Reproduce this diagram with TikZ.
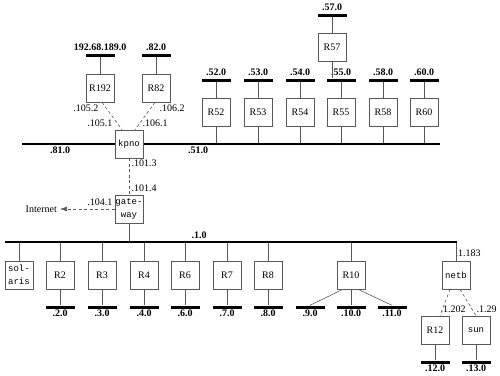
\documentclass[tikz,border=0pt]{standalone}
\usepackage{fontspec}
\setmainfont{Liberation Serif}
\setmonofont{Liberation Mono}
\usepackage{tikz}
\usetikzlibrary{arrows.meta, positioning}
\tikzstyle{router} = [rectangle, draw=black!65, fill=white, line width=0.6pt, minimum width=28pt, minimum height=28pt, inner sep=0pt, text centered]
\tikzstyle{host} = [router, font=\ttfamily\fontsize{9}{13}\selectfont, align=center]
\tikzstyle{net} = [rectangle, fill=black, minimum width=29pt, minimum height=3pt, inner sep=0pt]
\tikzstyle{lan} = [rectangle, fill=black, minimum height=2.4pt, inner sep=0pt]
\tikzstyle{netlabel} = [font=\bfseries, inner sep=1pt]
\tikzstyle{iflabel} = [inner sep=0.5pt]
\tikzstyle{link} = [draw=black!65, line width=0.6pt]
\tikzstyle{ptp} = [link, dash pattern=on 3pt off 2.5pt]
\tikzstyle{arrow} = [-{Latex[length=7pt, width=5pt]}]

\begin{document}
\begin{tikzpicture}[x=1pt, y=-1pt]
    \useasboundingbox (0,0) rectangle (500,375);

        % Ethernets
        \node (lan81) [lan, minimum width=418pt] at (231,144) {};
        \node (lan1) [lan, minimum width=452pt] at (231,242) {};
        \node (t81) [netlabel, anchor=north] at (60,146) {.81.0};
        \node (t51) [netlabel, anchor=north] at (198,146) {.51.0};
        \node (t1) [netlabel, anchor=south] at (199,240) {.1.0};

        % Nodes
        \node (r192) [router] at (100,88) {R192};
        \node (r82) [router] at (156,88) {R82};
        \node (kpno) [host] at (129,144) {kpno};
        \node (r52) [router] at (216,112) {R52};
        \node (r53) [router] at (258,112) {R53};
        \node (r54) [router] at (300,112) {R54};
        \node (r55) [router] at (341,112) {R55};
        \node (r58) [router] at (383,112) {R58};
        \node (r60) [router] at (424,112) {R60};
        \node (r57) [router] at (332,47) {R57};
        \node (gateway) [host] at (129,209) {gate-\\way};
        \node (internet) [inner sep=3pt, anchor=east] at (60,209) {Internet};
        \node (solaris) [host] at (19,275) {sol-\\aris};
        \node (r2) [router] at (60,275) {R2};
        \node (r3) [router] at (102,275) {R3};
        \node (r4) [router] at (144,275) {R4};
        \node (r6) [router] at (185,275) {R6};
        \node (r7) [router] at (227,275) {R7};
        \node (r8) [router] at (268,275) {R8};
        \node (r10) [router] at (351,275) {R10};
        \node (netb) [host] at (456,275) {netb};
        \node (r12) [router] at (435,330) {R12};
        \node (sun) [host] at (476,330) {sun};

        % Networks
        \node (n192) [net] at (100,55) {};
        \node (n82) [net] at (156,55) {};
        \node (n57) [net] at (332,15) {};
        \node (n52) [net] at (216,80) {};
        \node (n53) [net] at (258,80) {};
        \node (n54) [net] at (300,80) {};
        \node (n55) [net] at (341,80) {};
        \node (n58) [net] at (383,80) {};
        \node (n60) [net] at (424,80) {};
        \node (n2) [net] at (60,307) {};
        \node (n3) [net] at (102,307) {};
        \node (n4) [net] at (144,307) {};
        \node (n6) [net] at (185,307) {};
        \node (n7) [net] at (227,307) {};
        \node (n8) [net] at (268,307) {};
        \node (n9) [net] at (310,307) {};
        \node (n10) [net] at (351,307) {};
        \node (n11) [net] at (392,307) {};
        \node (n12) [net] at (435,362) {};
        \node (n13) [net] at (476,362) {};

        \node (t192) [netlabel, above=1.5pt of n192] {192.68.189.0};
        \node (t82) [netlabel, above=1.5pt of n82] {.82.0};
        \node (t57) [netlabel, above=1.5pt of n57] {.57.0};
        \node (t52) [netlabel, above=1.5pt of n52] {.52.0};
        \node (t53) [netlabel, above=1.5pt of n53] {.53.0};
        \node (t54) [netlabel, above=1.5pt of n54] {.54.0};
        \node (t55) [netlabel, above=1.5pt of n55] {.55.0};
        \node (t58) [netlabel, above=1.5pt of n58] {.58.0};
        \node (t60) [netlabel, above=1.5pt of n60] {.60.0};
        \node (t2) [netlabel, below=0pt of n2] {.2.0};
        \node (t3) [netlabel, below=0pt of n3] {.3.0};
        \node (t4) [netlabel, below=0pt of n4] {.4.0};
        \node (t6) [netlabel, below=0pt of n6] {.6.0};
        \node (t7) [netlabel, below=0pt of n7] {.7.0};
        \node (t8) [netlabel, below=0pt of n8] {.8.0};
        \node (t9) [netlabel, below=0pt of n9] {.9.0};
        \node (t10) [netlabel, below=0pt of n10] {.10.0};
        \node (t11) [netlabel, below=0pt of n11] {.11.0};
        \node (t12) [netlabel, below=0pt of n12] {.12.0};
        \node (t13) [netlabel, below=0pt of n13] {.13.0};

        % Interface addresses
        \node (a1052) [iflabel, anchor=east] at (99,108) {.105.2};
        \node (a1051) [iflabel, anchor=east] at (113,123) {.105.1};
        \node (a1062) [iflabel, anchor=west] at (159,108) {.106.2};
        \node (a1061) [iflabel, anchor=west] at (142,123) {.106.1};
        \node (a1013) [iflabel, anchor=west] at (131,163) {.101.3};
        \node (a1014) [iflabel, anchor=west] at (131,188) {.101.4};
        \node (a1041) [iflabel, anchor=east] at (113,202) {.104.1};
        \node (a1183) [iflabel, anchor=west] at (455,253) {.1.183};
        \node (a1202) [iflabel, anchor=west] at (440,309) {.1.202};
        \node (a129) [iflabel, anchor=west] at (476,309) {.1.29};

        % Links
        \draw [link] (r192) -- (n192);
        \draw [link] (r82) -- (n82);
        \draw [link] (r57) -- (n57);
        \draw [link] (r57) -- (r57 |- n55.north);
        \draw [link] (r52) -- (n52);
        \draw [link] (r53) -- (n53);
        \draw [link] (r54) -- (n54);
        \draw [link] (r55) -- (n55);
        \draw [link] (r58) -- (n58);
        \draw [link] (r60) -- (n60);
        \draw [link] (r52) -- (r52 |- lan81.north);
        \draw [link] (r53) -- (r53 |- lan81.north);
        \draw [link] (r54) -- (r54 |- lan81.north);
        \draw [link] (r55) -- (r55 |- lan81.north);
        \draw [link] (r58) -- (r58 |- lan81.north);
        \draw [link] (r60) -- (r60 |- lan81.north);
        \draw [ptp] ([xshift=2pt]r192.south) -- ([xshift=-7pt]kpno.north);
        \draw [ptp] ([xshift=-1pt]r82.south) -- ([xshift=6pt]kpno.north);
        \draw [ptp] (kpno) -- (gateway);
        \draw [ptp, arrow] (gateway) -- (internet);
        \draw [link] (gateway) -- (gateway |- lan1.north);
        \draw [link] (solaris) -- (solaris |- lan1.south);
        \draw [link] (r2) -- (r2 |- lan1.south);
        \draw [link] (r3) -- (r3 |- lan1.south);
        \draw [link] (r4) -- (r4 |- lan1.south);
        \draw [link] (r6) -- (r6 |- lan1.south);
        \draw [link] (r7) -- (r7 |- lan1.south);
        \draw [link] (r8) -- (r8 |- lan1.south);
        \draw [link] (r10) -- (r10 |- lan1.south);
        \draw [link] (netb) -- (netb |- lan1.south);
        \draw [link] (r2) -- (n2);
        \draw [link] (r3) -- (n3);
        \draw [link] (r4) -- (n4);
        \draw [link] (r6) -- (n6);
        \draw [link] (r7) -- (n7);
        \draw [link] (r8) -- (n8);
        \draw [link] ([xshift=-8pt]r10.south) -- (n9.north);
        \draw [link] (r10) -- (n10);
        \draw [link] ([xshift=7pt]r10.south) -- (n11.north);
        \draw [ptp] ([xshift=-6pt]netb.south) -- ([xshift=5pt]r12.north);
        \draw [ptp] ([xshift=4pt]netb.south) -- (sun.north);
        \draw [link] (r12) -- (n12);
        \draw [link] (sun) -- (n13);
    \end{tikzpicture}
\end{document}
